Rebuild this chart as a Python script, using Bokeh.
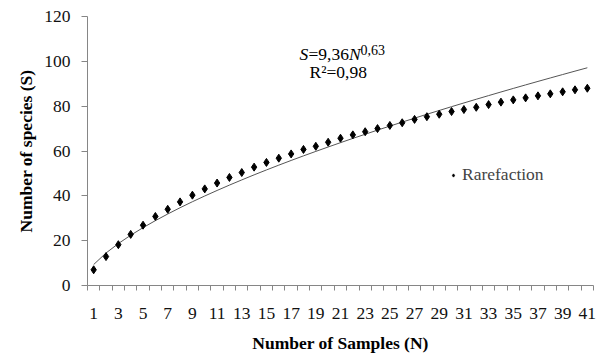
from bokeh.plotting import figure
from bokeh.models import FixedTicker, Label, Legend, LegendItem, Range1d
from bokeh.embed import file_html
from bokeh.resources import INLINE

# ---- data ----
samples = list(range(1, 42))
rarefaction = [7.0, 12.9, 18.2, 22.8, 26.9, 30.8, 34.0, 37.3, 40.3, 43.1, 45.7, 48.2, 50.4,
               52.8, 54.9, 56.8, 58.7, 60.7, 62.1, 63.9, 65.7, 67.2, 68.6, 70.0, 71.4, 72.6,
               74.1, 75.3, 76.4, 77.6, 78.5, 79.5, 80.7, 81.8, 82.8, 83.7, 84.6, 85.5, 86.4,
               87.3, 88.0]
fit_curve = [9.36, 14.49, 18.70, 22.42, 25.80, 28.94, 31.89, 34.69, 37.37, 39.93, 42.40,
             44.79, 47.10, 49.36, 51.55, 53.69, 55.78, 57.83, 59.82, 61.79, 63.72, 65.62,
             67.47, 69.32, 71.11, 72.89, 74.65, 76.39, 78.08, 79.78, 81.44, 83.09, 84.71,
             86.32, 87.91, 89.49, 91.04, 92.58, 94.11, 95.63, 97.13]
x_tick_labels = list(range(1, 42, 2))
y_ticks = [0, 20, 40, 60, 80, 100, 120]

FONT = "Liberation Serif"
AX = "#868686"

p = figure(width=602, height=357, output_backend="svg", toolbar_location=None,
           x_range=Range1d(0.5, 41.5), y_range=Range1d(0, 120),
           min_border_left=87, min_border_right=9, min_border_top=16, min_border_bottom=72)
p.outline_line_color = None
p.background_fill_color = "white"
p.border_fill_color = "white"

# x axis: ticks at category boundaries, labels at odd categories
p.xaxis.ticker = FixedTicker(ticks=x_tick_labels,
                             minor_ticks=[n - 0.5 for n in samples] + [samples[-1] + 0.5])
p.xaxis.axis_line_color = AX
p.xaxis.major_tick_out = 0
p.xaxis.major_tick_in = 0
p.xaxis.minor_tick_out = 5
p.xaxis.minor_tick_in = 0
p.xaxis.minor_tick_line_color = AX
p.xaxis.major_label_standoff = 17
p.xaxis.major_label_text_font = FONT
p.xaxis.major_label_text_font_size = "17.5px"
p.xaxis.major_label_text_color = "#111111"
p.xaxis.axis_label = "Number of Samples (N)"
p.xaxis.axis_label_text_font = FONT
p.xaxis.axis_label_text_font_size = "17.5px"
p.xaxis.axis_label_text_font_style = "bold"
p.xaxis.axis_label_text_color = "black"
p.xaxis.axis_label_standoff = 11

p.yaxis.ticker = FixedTicker(ticks=y_ticks)
p.yaxis.axis_line_color = AX
p.yaxis.major_tick_line_color = AX
p.yaxis.major_tick_out = 6
p.yaxis.major_tick_in = 0
p.yaxis.minor_tick_line_color = None
p.yaxis.major_label_standoff = 11
p.yaxis.major_label_text_font = FONT
p.yaxis.major_label_text_font_size = "17.5px"
p.yaxis.major_label_text_color = "#111111"
p.yaxis.axis_label = "Number of species (S)"
p.yaxis.axis_label_text_font = FONT
p.yaxis.axis_label_text_font_size = "17.5px"
p.yaxis.axis_label_text_font_style = "bold"
p.yaxis.axis_label_text_color = "black"
p.yaxis.axis_label_standoff = 5

p.xgrid.visible = False
p.ygrid.ticker = FixedTicker(ticks=[y_ticks[-1]])
p.ygrid.grid_line_color = "#d9d9d9"

# fitted curve and data
p.line(samples, fit_curve, line_color="#555555", line_width=1)
pts = p.scatter(samples, rarefaction, marker="diamond", size=8,
                fill_color="black", line_color="black")

legend = Legend(items=[LegendItem(label="Rarefaction", renderers=[pts])],
                location=(362, 100), margin=0, padding=0, spacing=0,
                glyph_width=8, glyph_height=18, label_standoff=5,
                label_text_font=FONT, label_text_font_size="17.5px",
                border_line_color=None, background_fill_alpha=0)
p.add_layout(legend)

def lab(text, x, y, size="17.5px", style="normal"):
    p.add_layout(Label(text=text, x=x, y=y, x_units="screen", y_units="screen",
                       text_font=FONT, text_font_size=size, text_font_style=style,
                       text_baseline="alphabetic", text_color="black"))

# equation
lab("S", 212, 232, style="italic")
lab("=9,36", 221, 232)
lab("N", 261.5, 232, style="italic")
lab("0,63", 273, 235.5, size="14px")
lab("R²=0,98", 222, 213.5)

open("out.html", "w").write(file_html(p, INLINE))
